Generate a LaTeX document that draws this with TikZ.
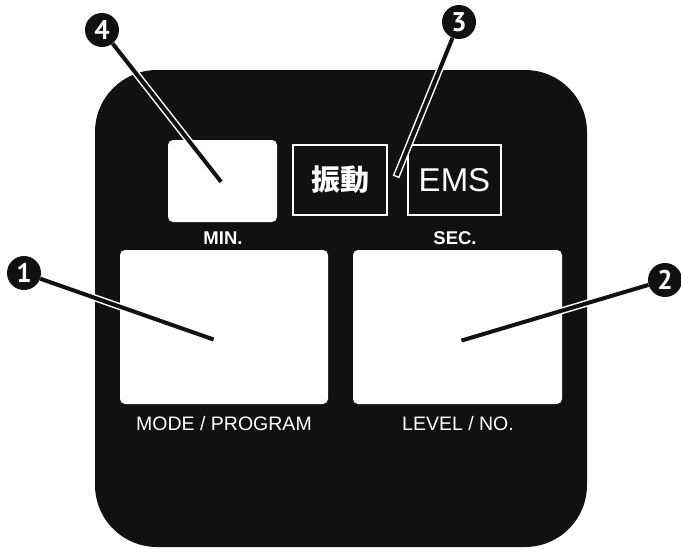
\documentclass[tikz,border=0pt]{standalone}
\usepackage{fontspec}
\setmainfont{Liberation Sans}
\newfontfamily\cjkfont{Noto Sans CJK JP}
\newfontfamily\numfont{PT Sans}
\definecolor{panel}{RGB}{17,17,17}
\pgfdeclarelayer{front}
\pgfsetlayers{main,front}
\begin{document}
\begin{tikzpicture}[x=1pt,y=-1pt,
    screen/.style={fill=white,rounded corners=5pt,inner sep=0pt},
    tag/.style={draw=white,line width=1.5pt,inner sep=0pt,minimum width=94pt,minimum height=70pt,text=white},
    caption/.style={text=white,inner sep=0pt,font=\fontsize{19.5}{19.5}\selectfont},
    unit/.style={caption,font=\bfseries\fontsize{18.5}{18.5}\selectfont},
    callout/.style={circle,fill=panel,text=white,inner sep=0pt,minimum size=34pt,font=\numfont\bfseries\fontsize{27}{27}\selectfont},
    halo/.style={white,line width=7pt},
    leader/.style={panel,line width=4pt,shorten >=1.5pt}]
    \useasboundingbox (0,0) rectangle (681,549);
    \fill[panel,rounded corners=62pt] (95,70) rectangle (587,547);

    % displays
    \node[screen,minimum width=109pt,minimum height=82pt] (min) at (222.5,181) {};
    \node[screen,minimum width=208pt,minimum height=154pt] (mode) at (224,327) {};
    \node[screen,minimum width=209pt,minimum height=154pt] (level) at (457.5,327) {};
    \node[tag] (vib) at (340,180) {\cjkfont\bfseries\fontsize{29}{29}\selectfont 振動};
    \node[tag,minimum width=93pt] (ems) at (454.5,180) {\fontsize{33}{33}\selectfont EMS};

    % labels
    \node[unit] (minlbl) at (223,238) {MIN.};
    \node[unit] (seclbl) at (455,238) {SEC.};
    \node[caption] (modelbl) at (224,424) {MODE / PROGRAM};
    \node[caption] (levellbl) at (458,424) {LEVEL / NO.};

    % callouts
    \begin{pgfonlayer}{front}
    \node[callout] (c1) at (24,273) {1};
    \node[callout] (c2) at (665,280) {2};
    \node[callout] (c3) at (459,22) {3};
    \node[callout] (c4) at (102,30) {4};
    \end{pgfonlayer}
    \coordinate (p1) at (215,340);
    \coordinate (p2) at (460,341);
    \coordinate (p3) at (396,177);
    \coordinate (p4) at (222,183);

    \foreach \n in {1,...,4} {
        \draw[halo] (c\n) -- (p\n);
        \draw[leader] (c\n) -- (p\n);
    }
\end{tikzpicture}
\end{document}
